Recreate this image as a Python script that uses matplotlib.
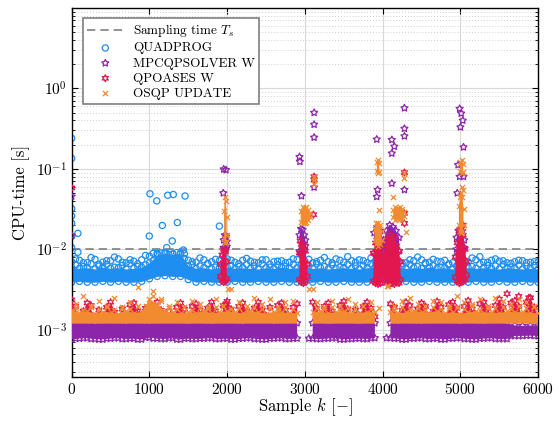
import numpy as np
import matplotlib
matplotlib.use("Agg")
import matplotlib.pyplot as plt

# LaTeX-like look
plt.rcParams["font.family"] = "serif"
plt.rcParams["font.serif"] = ["cmr10"]
plt.rcParams["mathtext.fontset"] = "custom"
plt.rcParams["mathtext.rm"] = "cmr10"
plt.rcParams["mathtext.it"] = "cmmi10"
plt.rcParams["mathtext.bf"] = "cmb10"
plt.rcParams["axes.formatter.use_mathtext"] = True
plt.rcParams["axes.unicode_minus"] = False

# ---------------- data (times in ms unless noted) ----------------
# band envelopes, one value per 100 samples (k = 0, 100, ..., 6000)
k_env = np.arange(0, 6001, 100)
nan = np.nan

quad_lo = [3.9, 4.0, 3.9, 3.9, 4.0, 3.9, 4.0, 3.9, 3.9, 4.0,
           4.3, 4.6, 4.7, 4.6, 4.6, 4.2, 3.9, 4.0, 3.9, 3.9,
           3.9, 4.0, 3.9, 3.9, 4.0, 3.9, 3.9, 4.0, 3.9, 3.9,
           3.9, 3.9, 4.0, 3.9, 3.9, 4.0, 3.9, 3.9, 3.9, 4.0,
           3.9, 3.9, 3.9, 4.0, 3.9, 3.9, 4.0, 3.9, 3.9, 3.9,
           3.9, 3.9, 4.0, 3.9, 3.9, 4.0, 3.9, 3.9, 4.0, 3.9, 3.9]
quad_hi = [6.0, 5.8, 5.9, 5.7, 6.0, 5.8, 5.9, 5.7, 5.8, 6.0,
           6.8, 8.6, 8.8, 8.7, 8.8, 6.2, 5.8, 5.9, 5.7, 5.9,
           6.0, 5.8, 5.9, 5.8, 5.7, 5.9, 5.8, 6.0, 5.8, 5.9,
           6.0, 5.8, 5.9, 5.7, 5.8, 5.9, 5.8, 5.7, 5.9, 6.0,
           6.1, 6.0, 5.9, 5.8, 5.9, 5.8, 6.0, 5.8, 5.9, 5.7,
           6.0, 5.9, 5.8, 5.9, 5.8, 5.7, 5.9, 5.8, 5.7, 5.8, 5.7]
# sparse upper circles, at k = 50, 150, ..., 5950
quad_up = [7.6, 6.8, 7.9, 6.5, 7.2, 8.0, 6.9, 7.4, 6.6, 8.4,
           8.9, 9.0, 8.6, 9.1, 8.8, 7.0, 7.8, 6.7, 7.5, 8.2,
           7.3, 6.6, 7.7, 6.9, 7.4, 6.5, 7.1, 6.8, 7.6, 8.6,
           7.5, 7.0, 7.9, 6.8, 7.3, 8.1, 6.9, 7.2, 7.8, 8.3,
           7.6, 7.9, 6.7, 7.4, 8.0, 6.8, 7.5, 7.0, 6.6, 8.2,
           7.1, 7.8, 8.1, 6.9, 7.6, 7.2, 6.7, 7.3, 6.8, 7.0]
quad_mid = [6.4, 6.1, 6.6, 6.2, 6.5, 6.0, 6.3, 6.7, 6.1, 6.4,
            7.2, 7.5, 7.8, 7.4, 7.7, 6.5, 6.2, 6.6, 6.0, 6.4,
            6.3, 6.1, 6.5, 6.2, 6.6, 6.0, 6.4, 6.1, 6.5, 6.3,
            6.2, 6.6, 6.1, 6.4, 6.0, 6.5, 6.2, 6.3, 6.6, 6.1,
            6.4, 6.7, 6.2, 6.5, 6.1, 6.6, 6.3, 6.0, 6.4, 6.2,
            6.5, 6.1, 6.6, 6.3, 6.2, 6.5, 6.0, 6.4, 6.2, 6.3]
# more circles, at k = 0, 100, ..., 6000
quad_mid2 = [7.0, 7.3, 6.8, 7.5, 6.9, 7.2, 7.6, 6.8, 7.1, 7.4,
             8.2, 8.9, 9.2, 8.8, 9.0, 7.3, 6.9, 7.4, 7.0, 7.2,
             7.6, 6.9, 7.3, 7.1, 6.8, 7.4, 7.0, 7.2, 6.9, 7.5,
             7.1, 6.8, 7.3, 7.0, 7.6, 6.9, 7.2, 7.4, 6.8, 7.1,
             7.3, 7.5, 7.0, 6.8, 7.2, 7.4, 6.9, 7.1, 7.3, 6.8,
             7.2, 7.0, 7.4, 6.9, 7.3, 7.1, 6.8, 7.0, 7.2, 6.9, 7.0]

mpc_lo = [0.76, 0.78, 0.79, 0.77, 0.76, 0.78, 0.79, 0.77, 0.78, 0.76,
          0.80, 0.78, 0.77, 0.79, 0.76, 0.78, 0.77, 0.78, 0.79, 0.77,
          0.78, 0.76, 0.78, 0.79, 0.77, 0.76, 0.78, 0.79, 0.77, 0.78,
          nan, 0.78, 0.77, 0.78, 0.79, 0.76, 0.77, 0.78, 0.77, 0.79,
          nan, 0.79, 0.78, 0.76, 0.78, 0.79, 0.77, 0.78, 0.76, 0.78,
          0.79, 0.77, 0.76, 0.78, 0.79, 0.77, 0.77, 0.84, 0.84, 0.85, 0.84]
mpc_hi = [1.24, 1.21, 1.22, 1.20, 1.21, 1.23, 1.21, 1.20, 1.22, 1.21,
          1.20, 1.22, 1.21, 1.23, 1.21, 1.20, 1.22, 1.21, 1.20, 1.21,
          1.22, 1.21, 1.20, 1.22, 1.21, 1.23, 1.20, 1.21, 1.22, 1.21,
          nan, 1.21, 1.22, 1.20, 1.21, 1.23, 1.21, 1.20, 1.22, 1.21,
          nan, 1.21, 1.20, 1.22, 1.21, 1.20, 1.22, 1.21, 1.23, 1.21,
          1.20, 1.22, 1.21, 1.20, 1.21, 1.22, 1.20, 1.13, 1.12, 1.13, 1.13]

osqp_lo = [1.19] * 30 + [nan] + [1.19] * 9 + [nan] + [1.19] * 20
osqp_hi = [1.75, 1.62, 1.70, 1.58, 1.68, 1.64, 1.58, 1.72, 1.62, 1.66,
           2.40, 2.10, 1.70, 1.64, 1.60, 1.66, 1.62, 1.72, 1.60, 1.65,
           1.70, 1.64, 1.60, 1.70, 1.66, 1.58, 1.68, 1.64, 1.62, 1.60,
           nan, 1.64, 1.70, 1.60, 1.66, 1.72, 1.62, 1.60, 1.68, 1.64,
           nan, 1.65, 1.60, 1.64, 1.70, 1.68, 1.62, 1.72, 1.60, 1.66,
           1.58, 1.64, 1.70, 1.62, 1.66, 1.60, 1.70, 1.64, 1.68, 1.62, 1.60]
# orange crosses above the band, at k = 50, 150, ..., 5950
osqp_up = [2.1, 2.6, 1.9, 2.3, 2.0, 2.5, 1.9, 2.2, 3.4, 2.0,
           3.0, 2.4, 2.0, 2.2, 1.9, 2.3, 2.1, 1.9, 2.4, 2.0,
           3.2, 2.2, 2.0, 2.5, 2.1, 2.4, 1.9, 2.2, 2.3, nan,
           3.2, 2.2, 1.9, 2.3, 2.0, 2.4, 2.1, 2.0, 2.2, nan,
           3.5, 2.0, 2.3, 2.5, 2.1, 2.0, 2.3, 2.2, 2.0, 2.6,
           2.2, 2.1, 2.4, 2.0, 2.5, 2.3, 2.1, 2.4, 2.2, 2.0]
osqp_mid = [1.85, 1.78, 1.95, 1.80, 1.90, 1.76, 1.88, 1.82, 1.95, 1.78,
            2.60, 2.30, 1.85, 1.80, 1.92, 1.76, 1.86, 1.80, 1.90, 1.95,
            1.82, 1.88, 1.78, 1.92, 1.80, 1.86, 1.76, 1.90, 1.82, nan,
            nan, 1.86, 1.80, 1.92, 1.78, 1.88, 1.82, 1.95, 1.80, 1.86,
            nan, 1.78, 1.90, 1.82, 1.88, 1.76, 1.92, 1.80, 1.86, 1.90,
            1.82, 1.95, 1.78, 1.88, 1.84, 1.92, 1.80, 1.96, 1.86, 1.90]

qpo_lo = [1.30] * 30 + [nan] + [1.30] * 9 + [nan] + [1.30] * 20
qpo_hi = [2.35, 1.40, 2.15, 1.45, 1.50, 2.20, 1.40, 1.50, 2.15, 1.45,
          1.50, 2.20, 1.45, 1.40, 2.15, 1.40, 2.10, 1.45, 2.20, 1.40,
          2.25, 1.45, 2.15, 1.40, 2.20, 1.50, 1.40, 2.15, 1.45, 2.10,
          nan, 2.20, 1.45, 2.15, 1.40, 2.25, 1.45, 1.50, 2.20, 1.45,
          nan, 2.10, 1.45, 2.20, 1.40, 2.15, 1.50, 2.25, 1.45, 2.20,
          1.45, 2.30, 1.40, 2.20, 1.50, 2.40, 1.45, 2.30, 1.50, 2.50, 1.45]
# extra red stars between the clumps, at k = 50, 150, ..., 5950
qpo_mid = [1.95, 1.70, 2.00, 1.75, 1.90, 1.65, 1.80, 2.05, 1.70, 1.85,
           1.95, 1.75, 1.70, 1.90, 1.80, 1.95, 1.75, 1.85, 1.70, 2.00,
           1.80, 1.95, 1.70, 1.85, 1.75, 1.90, 2.00, 1.75, 1.90, nan,
           nan, 1.85, 1.95, 1.70, 2.00, 1.80, 1.75, 1.95, 1.85, nan,
           nan, 1.90, 1.75, 2.00, 1.80, 1.95, 1.70, 1.90, 2.05, 1.85,
           1.95, 1.80, 2.10, 1.85, 2.00, 1.90, 2.15, 1.95, 2.20, 1.90]

# spike clusters around k = 2000, 3000, 4000, 5000 (nan separates them)
mpc_clu_k = [1955, 1970, 1985, 1995, 2500,
             2930, 2950, 2970, 2990, 3005, 3500,
             3890, 3930, 3970, 4010, 4050, 4090, 4130, 4170, 4210, 4600,
             4950, 4975, 5000, 5025, 5050]
mpc_clu_lo = [10.5, 10.0, 10.2, 10.8, nan,
              9.5, 9.0, 9.2, 10.0, 11.0, nan,
              9.0, 8.5, 9.0, 10.0, 8.5, 8.0, 8.5, 9.0, 9.5, nan,
              10.0, 9.5, 9.5, 10.0, 10.5]
mpc_clu_hi = [13.0, 15.0, 14.5, 12.5, nan,
              15.0, 18.0, 17.5, 15.0, 13.0, nan,
              16.0, 19.0, 17.0, 13.0, 17.0, 20.0, 19.0, 17.0, 14.0, nan,
              14.0, 17.0, 18.0, 17.0, 13.0]

qpo_clu_k = [1915, 1935, 1955, 1975, 1995, 2500,
             2930, 2955, 2980, 3005, 3030, 3500,
             3880, 3910, 3940, 3970, 4000, 4030, 4060, 4090, 4120, 4150,
             4180, 4210, 4230, 4600,
             4935, 4960, 4985, 5010, 5035, 5060, 5080]
qpo_clu_lo = [4.6, 4.1, 3.9, 4.0, 4.3, nan,
              4.2, 3.9, 3.8, 4.0, 4.6, nan,
              4.0, 3.8, 3.7, 3.8, 4.5, 4.0, 3.8, 3.7, 3.8, 3.7,
              3.9, 3.8, 4.2, nan,
              4.5, 4.0, 3.8, 3.9, 4.0, 4.2, 4.8]
qpo_clu_hi = [6.5, 8.5, 10.0, 9.5, 7.0, nan,
              9.0, 11.5, 11.0, 9.5, 6.5, nan,
              9.0, 12.0, 14.0, 11.0, 8.0, 10.0, 13.0, 15.0, 12.5, 14.0,
              11.0, 9.5, 7.0, nan,
              8.0, 12.0, 17.0, 18.0, 15.0, 10.0, 7.0]

osqp_clu_k = [1960, 1972, 1984, 1994, 2500,
              2945, 2970, 2995, 3020, 3045, 3060, 3500,
              3895, 3920, 3945, 3970, 3990, 3992,
              3925, 3940, 3955, 4000,
              4135, 4165, 4195, 4225, 4255, 4270, 4600,
              4980, 4995, 5010, 5025, 5040, 5042,
              4995, 5015, 5035]
osqp_clu_lo = [14.0, 12.0, 12.5, 15.0, nan,
               22.0, 21.0, 21.5, 22.0, 23.0, 25.0, nan,
               13.0, 11.5, 11.0, 11.5, 13.0, nan,
               95.0, 90.0, 92.0, nan,
               25.0, 23.0, 23.5, 24.0, 24.0, 26.0, nan,
               20.0, 17.0, 16.0, 17.0, 20.0, nan,
               95.0, 89.0, 92.0]
osqp_clu_hi = [30.0, 45.0, 40.0, 25.0, nan,
               30.0, 34.0, 33.0, 34.0, 31.0, 28.0, nan,
               18.0, 21.0, 21.5, 20.0, 17.0, nan,
               120.0, 130.0, 118.0, nan,
               31.0, 34.0, 33.0, 34.0, 32.0, 29.0, nan,
               35.0, 45.0, 50.0, 45.0, 32.0, nan,
               120.0, 130.0, 115.0]

# isolated points (seconds)
quad_out_k = [0, 0, 0, 0, 0, 0, 0, 80, 80, 998, 1007, 1094, 1166, 1222,
              1235, 1294, 1307, 1359, 1436, 1458, 1900]
quad_out_v = [0.24, 0.135, 0.032, 0.026, 0.021, 0.0145, 0.0105, 0.0158,
              0.0092, 0.0146, 0.049, 0.040, 0.0198, 0.0105, 0.047, 0.0127,
              0.048, 0.0215, 0.0098, 0.046, 0.0194]
mpc_out_k = [0, 0, 1950, 1955, 1985, 2930, 2935, 2955, 3118, 3118, 3118,
             3118, 3924, 3935, 3924, 4118, 4150, 4118, 4118, 4280, 4280,
             4280, 4280, 4990, 5010, 5030, 5000, 5040, 4970, 4990, 5040,
             4960]
mpc_out_v = [0.0455, 0.0149, 0.05, 0.099, 0.097, 0.141, 0.123, 0.046, 0.50,
             0.356, 0.246, 0.059, 0.233, 0.055, 0.045, 0.23, 0.19, 0.156,
             0.066, 0.57, 0.317, 0.255, 0.055, 0.56, 0.49, 0.40, 0.33, 0.186,
             0.112, 0.08, 0.08, 0.05]
qpo_out_k = [0, 1975, 2940, 3118, 3118, 3110, 4280, 4280, 4280, 5030, 5600,
             5750, 5880, 1990]
qpo_out_v = [0.058, 0.0092, 0.0127, 0.080, 0.073, 0.027, 0.090, 0.028,
             0.021, 0.020, 0.0028, 0.0026, 0.0025, 0.0021]
osqp_out_k = [3118, 3118, 3118, 3950, 4130, 4280, 4280, 4300, 5020, 5030,
              2015, 3107, 4070]
osqp_out_v = [0.080, 0.073, 0.065, 0.031, 0.045, 0.090, 0.077, 0.0163,
              0.06, 0.055, 0.0032, 0.0032, 0.0035]

Ts = 0.01

# ---------------- plot ----------------
c_quad = "#1f8ef1"
c_mpc = "#8e24aa"
c_qpo = "#e3174f"
c_osqp = "#f28a30"

ms = 1e-3
kmid = k_env[:-1] + 50

fig = plt.figure(figsize=(5.6, 4.21), dpi=100)
ax = fig.add_axes([0.128, 0.105, 0.833, 0.876])

ax.axhline(Ts, color="#808080", lw=1.2, ls=(0, (5, 3)), zorder=1,
           label="Sampling time $T_s$")


def band(k, lo, hi, color, z):
    ax.fill_between(k, np.array(lo) * ms, np.array(hi) * ms,
                    color=color, lw=0, zorder=z)


# QUADPROG
band(k_env, quad_lo, quad_hi, c_quad, 2)
kw = dict(facecolors="none", edgecolors=c_quad, s=20, linewidths=0.9, zorder=2)
ax.scatter(kmid, np.array(quad_up) * ms, **kw)
ax.scatter(kmid, np.array(quad_mid) * ms, **kw)
ax.scatter(k_env, np.array(quad_mid2) * ms, **kw)
ax.scatter(k_env, np.array(quad_hi) * ms, **kw)
ax.scatter(k_env, np.array(quad_lo) * ms, **kw)
ax.scatter(quad_out_k, quad_out_v, marker="o", label="QUADPROG", **kw)

# MPCQPSOLVER W
star5 = (5, 1, 0)
kw = dict(facecolors="none", edgecolors=c_mpc, marker=star5, s=28,
          linewidths=0.9, zorder=3)
band(k_env, mpc_lo, mpc_hi, c_mpc, 3)
band(mpc_clu_k, mpc_clu_lo, mpc_clu_hi, c_mpc, 3)
ax.scatter(k_env, np.array(mpc_hi) * ms, **kw)
ax.scatter(k_env, np.array(mpc_lo) * ms, **kw)
ax.scatter(kmid, np.array(mpc_lo[1:]) * ms, **kw)
ax.scatter(mpc_clu_k, np.array(mpc_clu_hi) * ms, **kw)
ax.scatter(mpc_clu_k, np.array(mpc_clu_lo) * ms, **kw)
ax.scatter(mpc_out_k, mpc_out_v, label="MPCQPSOLVER W", **kw)

# QPOASES W
star6 = (6, 1, 0)
kw = dict(facecolors="none", edgecolors=c_qpo, marker=star6, s=26,
          linewidths=0.9, zorder=4)
band(k_env, qpo_lo, qpo_hi, c_qpo, 4)
band(qpo_clu_k, qpo_clu_lo, qpo_clu_hi, c_qpo, 4)
ax.scatter(k_env, np.array(qpo_hi) * ms, **kw)
ax.scatter(kmid, np.array(qpo_mid) * ms, **kw)
ax.scatter(qpo_clu_k, np.array(qpo_clu_hi) * ms, **kw)
ax.scatter(qpo_clu_k, np.array(qpo_clu_lo) * ms, **kw)
ax.scatter(qpo_out_k, qpo_out_v, label="QPOASES W", **kw)

# OSQP UPDATE
kw = dict(color=c_osqp, marker="x", s=14, linewidths=0.9, zorder=5)
band(k_env, osqp_lo, osqp_hi, c_osqp, 5)
band(osqp_clu_k, osqp_clu_lo, osqp_clu_hi, c_osqp, 5)
ax.scatter(k_env, np.array(osqp_hi) * ms, **kw)
ax.scatter(kmid, np.array(osqp_up) * ms, **kw)
ax.scatter(kmid, np.array(osqp_mid) * ms, **kw)
ax.scatter(osqp_clu_k, np.array(osqp_clu_hi) * ms, **kw)
ax.scatter(osqp_clu_k, np.array(osqp_clu_lo) * ms, **kw)
ax.scatter(osqp_out_k, osqp_out_v, label="OSQP UPDATE", **kw)

# axes
ax.set_yscale("log")
ax.set_xlim(0, 6000)
ax.set_ylim(2.6e-4, 10)
ax.set_xticks(range(0, 6001, 1000))
ax.set_yticks([1e-3, 1e-2, 1e-1, 1e0])
ax.grid(True, which="major", color="#d9d9d9", lw=0.8)
ax.grid(True, which="minor", axis="y", color="#d0d0d0", lw=0.7, ls=(0, (1, 2)))
ax.tick_params(which="both", direction="in", top=True, right=True,
               labelsize=11)
ax.tick_params(which="major", length=4)
ax.tick_params(which="minor", length=2)
ax.set_axisbelow(True)
for s in ax.spines.values():
    s.set_linewidth(1.0)
ax.set_xlabel("Sample $k$ [$-$]", fontsize=12, labelpad=0)
ax.set_ylabel("CPU-time [s]", fontsize=12)

leg = ax.legend(loc="upper left", bbox_to_anchor=(0.024, 0.972),
                borderaxespad=0, fontsize=9.5, fancybox=False, framealpha=1,
                edgecolor="#7f7f7f", borderpad=0.3, labelspacing=0.22,
                handlelength=2.8, handletextpad=0.7)
leg.get_frame().set_linewidth(1.2)

fig.savefig("out.png", dpi=100)
